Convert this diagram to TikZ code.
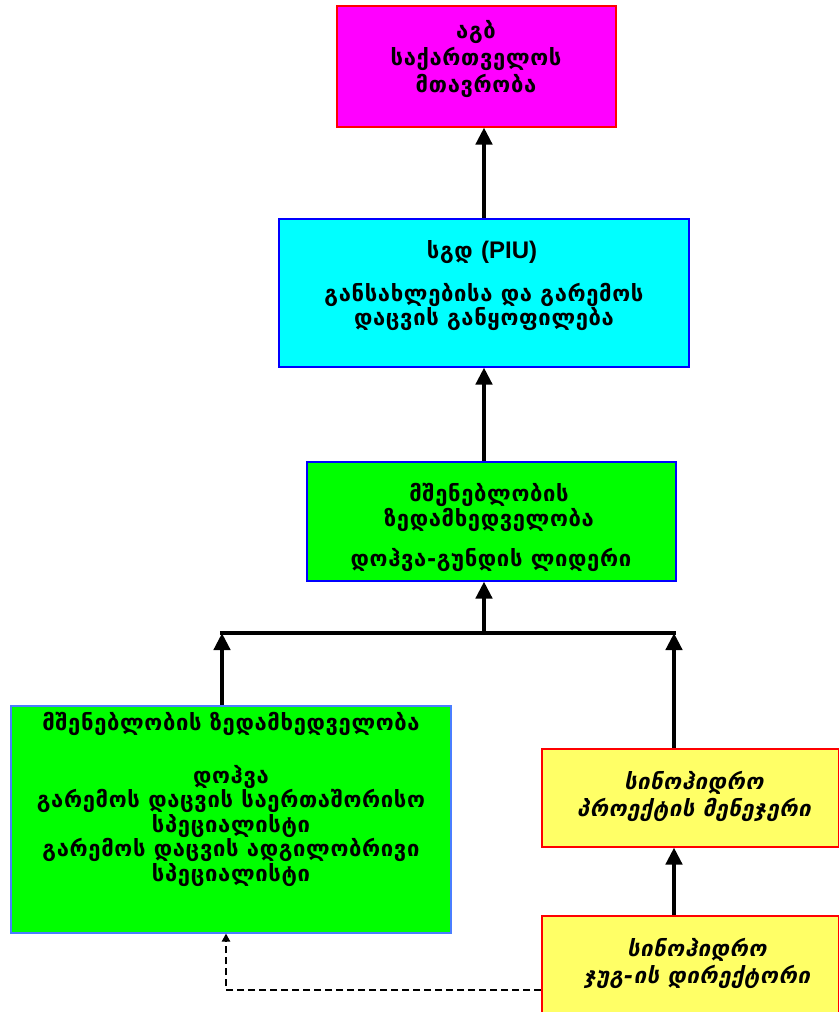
\documentclass[tikz,border=0pt]{standalone}
\usepackage{fontspec}
\setmainfont{DejaVu Sans}[LetterSpace=3]
\newfontfamily\lib{Liberation Sans}
\usetikzlibrary{arrows.meta}
\definecolor{cmag}{HTML}{FF00FF}
\definecolor{ccyan}{HTML}{00FFFF}
\definecolor{cgreen}{HTML}{00FF00}
\definecolor{cyel}{HTML}{FFFF66}
\definecolor{cred}{HTML}{FF0000}
\definecolor{cblue}{HTML}{0000FF}
\definecolor{cblue2}{HTML}{4A7EFF}
\tikzset{
  box/.style={draw, line width=1.5pt, inner sep=0pt, anchor=north west},
  txt/.style={font=\bfseries\fontsize{22}{24.5}\selectfont, align=center, anchor=north, inner sep=0pt},
  itxt/.style={txt, font=\bfseries\itshape\fontsize{22}{27}\selectfont},
  arr/.style={line width=4.5pt, -{Triangle[width=16pt,length=17pt]}},
  thickline/.style={line width=4.5pt},
  dasharr/.style={line width=2.5pt, dash pattern=on 7pt off 4pt, -{Triangle[width=8pt,length=8pt]}}
}
\begin{document}
\begin{tikzpicture}[x=1pt,y=-1pt]
\useasboundingbox (0,0) rectangle (838,1012);
\node[box, fill=cmag, draw=cred, minimum width=279pt, minimum height=121pt] (gov) at (336,5) {};
\node[box, fill=ccyan, draw=cblue, minimum width=410pt, minimum height=148pt] (piu) at (278,218) {};
\node[box, fill=cgreen, draw=cblue, minimum width=369pt, minimum height=119pt] (sup) at (306,461) {};
\node[box, fill=cgreen, draw=cblue2, minimum width=440pt, minimum height=227pt] (sup2) at (10,705) {};
\node[box, fill=cyel, draw=cred, minimum width=297pt, minimum height=98pt] (pm) at (541,748) {};
\node[box, fill=cyel, draw=cred, minimum width=297pt, minimum height=110pt] (dir) at (541,915) {};

\node[txt, font=\bfseries\fontsize{22}{27}\selectfont] (govt) at (476,20) {აგბ\\საქართველოს\\მთავრობა};
\node[txt] (piut1) at (482,240) {სგდ {\lib\bfseries\fontsize{24}{26}\selectfont (PIU)}};
\node[txt, font=\bfseries\fontsize{22}{22.5}\selectfont] (piut2) at (484,283) {განსახლებისა და გარემოს\\დაცვის განყოფილება};
\node[txt, font=\bfseries\fontsize{22}{25}\selectfont] (supt1) at (489,483) {მშენებლობის\\ზედამხედველობა};
\node[txt] (supt2) at (491,548) {დოჰვა-გუნდის ლიდერი};
\node[txt] (sup2t) at (231,712) {მშენებლობის ზედამხედველობა\\[28.5pt]დოჰვა\\გარემოს დაცვის საერთაშორისო\\სპეციალისტი\\გარემოს დაცვის ადგილობრივი\\სპეციალისტი};
\node[itxt] (pmt) at (694,771) {სინოჰიდრო\\პროექტის მენეჯერი};
\node[itxt] (dirt) at (697,938) {სინოჰიდრო\\ჯუგ-ის დირექტორი};

\coordinate (j) at (484,633);
\coordinate (jl) at (222,633);
\coordinate (jr) at (674,633);
\coordinate (dc) at (226,990);

\draw[arr] (piu.north -| j) -- (gov.south -| j);
\draw[arr] (sup.north -| j) -- (piu.south -| j);
\draw[arr] (j) -- (sup.south -| j);
\draw[thickline] ([xshift=-2.25pt]jl) -- ([xshift=2.25pt]jr);
\draw[arr] (sup2.north -| jl) -- (jl);
\draw[arr] (pm.north -| jr) -- (jr);
\draw[arr] (dir.north -| jr) -- (pm.south -| jr);
\draw[dasharr] (dir.west |- dc) -- (dc) -- (sup2.south -| dc);
\end{tikzpicture}
\end{document}
